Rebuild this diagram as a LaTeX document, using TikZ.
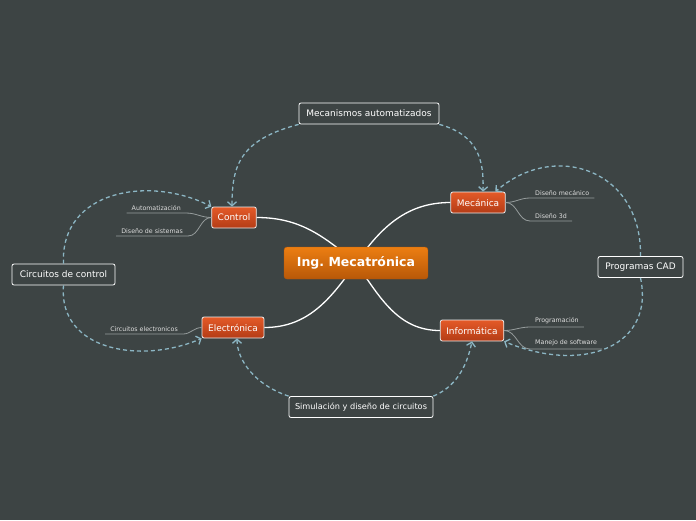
\documentclass[tikz,border=0pt]{standalone}
\usepackage{fontspec}
\setmainfont{DejaVu Sans}
\usepackage{tikz}
\usetikzlibrary{arrows.meta,positioning}
\definecolor{MBack}{RGB}{61,68,68}
\definecolor{MDash}{RGB}{140,182,196}
\definecolor{MRedTop}{RGB}{228,90,40}
\definecolor{MRedBot}{RGB}{180,60,22}
\definecolor{MOrangeTop}{RGB}{236,126,18}
\definecolor{MOrangeBot}{RGB}{184,88,8}
\definecolor{MEdge}{RGB}{236,236,236}
\definecolor{MLeafText}{RGB}{222,222,222}
\definecolor{MLeafLine}{RGB}{150,156,156}

\begin{document}
\begin{tikzpicture}[
    x=1pt, y=-1pt,
    hub/.style={rounded corners=3pt, top color=MOrangeTop, bottom color=MOrangeBot,
      draw=MOrangeBot, text=white, font=\fontsize{12.5}{14}\selectfont\bfseries,
      minimum width=144pt, minimum height=32pt},
    topic/.style={rounded corners=2pt, top color=MRedTop, bottom color=MRedBot,
      draw=MEdge, line width=0.8pt, text=white, font=\fontsize{9}{11}\selectfont,
      minimum height=21pt, inner xsep=6pt},
    floating/.style={rounded corners=2pt, fill=MBack, draw=white, line width=0.8pt,
      text=white, font=\fontsize{9}{11}\selectfont, minimum height=21pt, inner xsep=3pt},
    leaf/.style={text=MLeafText, font=\fontsize{6.3}{7.5}\selectfont, inner xsep=5pt, inner ysep=2.5pt},
    leafline/.style={draw=MLeafLine, line width=0.8pt},
    branch/.style={draw=white, line width=1.3pt},
    rel/.style={draw=MDash, dash pattern=on 4pt off 3pt, line width=1.3pt,
      -{Straight Barb[length=4pt,width=9pt]}}
  ]
  \fill[MBack] (0,0) rectangle (696,520);
  \useasboundingbox (0,0) rectangle (696,520);

  % main topics
  \coordinate (hubc) at (356,263);
  \node[topic] (control) at (234,217.5) {Control};
  \node[topic] (mecanica) at (478,202.5) {Mecánica};
  \node[topic] (electronica) at (233,327.5) {Electrónica};
  \node[topic] (informatica) at (472,330.5) {Informática};

  \draw[branch] (hubc) to[out=140,in=0] (control.east);
  \draw[branch] (hubc) to[out=55,in=180] (mecanica.west);
  \draw[branch] (hubc) to[out=235,in=0] (electronica.east);
  \draw[branch] (hubc) to[out=-55,in=180] (informatica.west);

  \node[hub] (ing) at (hubc) {Ing.\ Mecatrónica};

  % floating topics
  \node[floating, minimum width=140pt] (mecanismos) at (369,113.5) {Mecanismos automatizados};
  \node[floating, minimum width=103pt] (circuitos) at (63.5,274.5) {Circuitos de control};
  \node[floating, minimum width=85pt] (cad) at (640.5,267) {Programas CAD};
  \node[floating, minimum width=144pt, font=\fontsize{8.2}{10}\selectfont] (simulacion) at (361,407)
    {Simulación y diseño de circuitos};

  % subtopics
  \node[leaf, anchor=south east] (autom) at (186,213) {Automatización};
  \node[leaf, anchor=south east] (dsist) at (188,236) {Diseño de sistemas};
  \node[leaf, anchor=south east] (celec) at (183,334) {Circuitos electronicos};
  \node[leaf, anchor=south west] (dmec) at (530,198) {Diseño mecánico};
  \node[leaf, anchor=south west] (d3d) at (530,221) {Diseño 3d};
  \node[leaf, anchor=south west] (progr) at (530,327) {Programación};
  \node[leaf, anchor=south west] (manejo) at (530,349) {Manejo de software};

  \draw[leafline] (autom.south west) -- (autom.south east) to[out=0,in=180] (control.west);
  \draw[leafline] (dsist.south west) -- (dsist.south east) to[out=0,in=180] (control.west);
  \draw[leafline] (celec.south west) -- (celec.south east) to[out=0,in=180] (electronica.west);
  \draw[leafline] (mecanica.east) to[out=0,in=180] (dmec.south west) -- (dmec.south east);
  \draw[leafline] (mecanica.east) to[out=0,in=180] (d3d.south west) -- (d3d.south east);
  \draw[leafline] (informatica.east) to[out=0,in=180] (progr.south west) -- (progr.south east);
  \draw[leafline] (informatica.east) to[out=0,in=180] (manejo.south west) -- (manejo.south east);

  % relations
  \draw[rel] (mecanismos.south west) .. controls (240,140) and (232,165) .. ([xshift=-2pt]control.north);
  \draw[rel] (mecanismos.south east) .. controls (478,135) and (484,160) .. ([xshift=5pt]mecanica.north);
  \draw[rel] (circuitos.north) .. controls (60,190) and (150,175) .. (control.north west);
  \draw[rel] (circuitos.south) .. controls (58,350) and (140,365) .. (electronica.south west);
  \draw[rel] (cad.north) .. controls (642,170) and (555,140) .. (mecanica.32);
  \draw[rel] (cad.south) .. controls (655,345) and (585,375) .. (informatica.south east);
  \draw[rel] (simulacion.north west) .. controls (255,385) and (237,360) .. ([xshift=4pt]electronica.south);
  \draw[rel] (simulacion.north east) .. controls (460,385) and (468,360) .. (informatica.south);
\end{tikzpicture}
\end{document}
